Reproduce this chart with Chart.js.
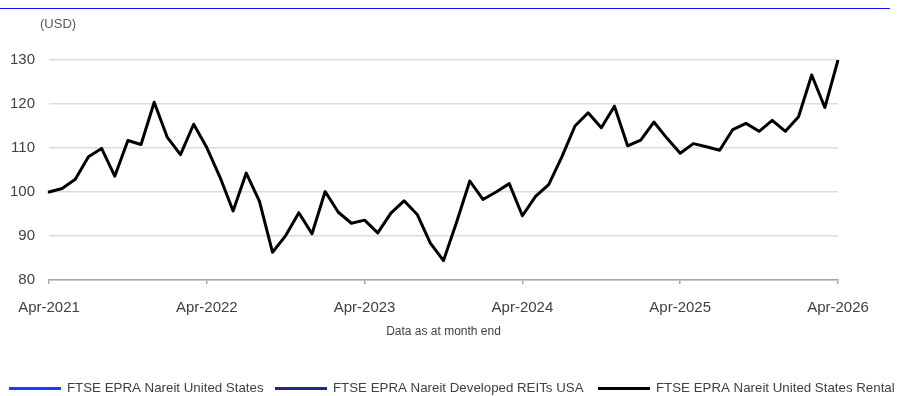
<!DOCTYPE html>
<html>
<head>
<meta charset="utf-8">
<script src="https://cdn.jsdelivr.net/npm/chart.js@4/dist/chart.umd.min.js"></script>
<style>
  html, body { margin: 0; padding: 0; background: #fff; }
  #wrap { width: 897px; height: 396px; overflow: hidden; }
</style>
</head>
<body>
<div id="wrap"><canvas id="c" width="897" height="396"></canvas></div>
<script>
// Monthly index levels (USD), month end, Apr-2021 .. Apr-2026
const startYear = 2021;
const startMonth = 3; // April (0-based)
const monthNames = ['Jan','Feb','Mar','Apr','May','Jun','Jul','Aug','Sep','Oct','Nov','Dec'];

const yearTicks = ['Apr-2021', 'Apr-2022', 'Apr-2023', 'Apr-2024', 'Apr-2025', 'Apr-2026'];

const seriesNames = [
  'FTSE EPRA Nareit United States',
  'FTSE EPRA Nareit Developed REITs USA',
  'FTSE EPRA Nareit United States Rental'
];

const unitedStates = [];
const developedReitsUsa = [];
const unitedStatesRental = [
  100.0, 100.8, 102.9, 108.0, 109.9, 103.6, 111.7, 110.8, 120.4, 112.4, 108.5, 115.4,
  110.1, 103.4, 95.7, 104.3, 97.9, 86.3, 90.1, 95.3, 90.5, 100.1, 95.4, 92.9,
  93.6, 90.7, 95.2, 98.0, 94.9, 88.4, 84.4, 93.2, 102.5, 98.3, 100.0, 101.9,
  94.6, 99.0, 101.7, 108.0, 115.0, 118.0, 114.6, 119.5, 110.5, 111.8, 115.9, 112.2,
  108.8, 111.0, 110.3, 109.5, 114.2, 115.6, 113.8, 116.3, 113.8, 117.1, 126.6, 119.2,
  130.0
];

const seriesColors = ['#1a3cff', '#1b2a8a', '#000000'];

// month-end categories
const months = unitedStatesRental.map((_, i) => {
  const m = startMonth + i;
  return monthNames[m % 12] + '-' + (startYear + Math.floor(m / 12));
});

const FONT = "'Liberation Sans', Arial, Helvetica, sans-serif";
const TEXT = '#404040';

const decorations = {
  id: 'decorations',
  afterDraw(chart) {
    const ctx = chart.ctx;
    const area = chart.chartArea;
    ctx.save();
    // rule across the top
    ctx.strokeStyle = '#1010ff';
    ctx.lineWidth = 1;
    ctx.beginPath();
    ctx.moveTo(0, 8.5);
    ctx.lineTo(890, 8.5);
    ctx.stroke();

    // unit label
    ctx.fillStyle = '#595959';
    ctx.font = '13px ' + FONT;
    ctx.textBaseline = 'middle';
    ctx.textAlign = 'left';
    ctx.fillText('(USD)', 40, 24);

    // note under the axis
    ctx.fillStyle = TEXT;
    ctx.font = '12px ' + FONT;
    ctx.textAlign = 'center';
    ctx.fillText('Data as at month end', (area.left + area.right) / 2, 331.5);

    // legend
    const textStarts = [67, 333, 656];
    const lineLen = 52;
    const gap = 6;
    ctx.font = '13.3px ' + FONT;
    ctx.textAlign = 'left';
    chart.data.datasets.forEach((ds, i) => {
      const tx = textStarts[i];
      const y = 388.5;
      ctx.strokeStyle = ds.borderColor;
      ctx.lineWidth = 3;
      ctx.beginPath();
      ctx.moveTo(tx - gap - lineLen, y);
      ctx.lineTo(tx - gap, y);
      ctx.stroke();
      ctx.fillStyle = TEXT;
      ctx.fillText(ds.label, tx, y);
    });
    ctx.restore();
  }
};

new Chart(document.getElementById('c'), {
  type: 'line',
  data: {
    labels: months,
    datasets: [
      { label: seriesNames[0], data: unitedStates, borderColor: seriesColors[0], borderWidth: 3 },
      { label: seriesNames[1], data: developedReitsUsa, borderColor: seriesColors[1], borderWidth: 3 },
      { label: seriesNames[2], data: unitedStatesRental, borderColor: seriesColors[2], borderWidth: 3 }
    ]
  },
  options: {
    responsive: false,
    animation: false,
    layout: { padding: { left: 0, right: 59, top: 60, bottom: 76 } },
    plugins: { legend: { display: false }, tooltip: { enabled: false } },
    elements: { point: { radius: 0 }, line: { tension: 0, borderJoinStyle: 'round', borderCapStyle: 'round' } },
    scales: {
      x: {
        type: 'category',
        offset: false,
        grid: {
          drawOnChartArea: false,
          drawTicks: true,
          tickLength: 4,
          lineWidth: 1.5,
          color: (c) => (c.tick && yearTicks.includes(months[c.index])) ? '#a6a6a6' : 'rgba(0,0,0,0)'
        },
        border: { display: true, color: '#a6a6a6', width: 1.5 },
        ticks: {
          autoSkip: false,
          maxRotation: 0,
          padding: 15,
          color: TEXT,
          font: { family: FONT, size: 15 },
          callback: (v, i) => yearTicks.includes(months[i]) ? months[i] : ''
        },
        afterFit: (s) => { s.height = 40; }
      },
      y: {
        min: 80,
        max: 130,
        ticks: { stepSize: 10, padding: 14, color: TEXT, font: { family: FONT, size: 15 } },
        grid: { color: '#dcdcdc', lineWidth: 1.5, drawTicks: false },
        border: { display: false },
        afterFit: (s) => { s.width = 49; }
      }
    }
  },
  plugins: [decorations]
});
</script>
</body>
</html>
